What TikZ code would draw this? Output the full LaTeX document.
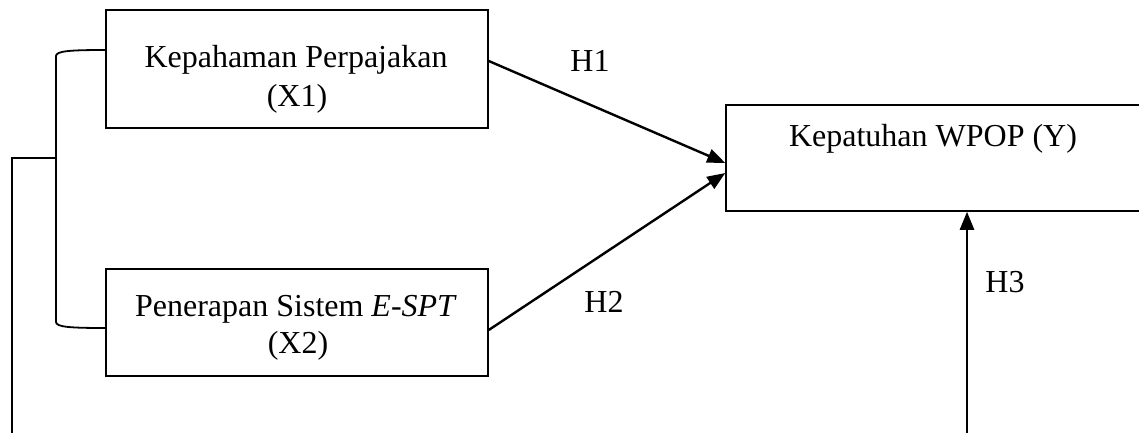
\documentclass[tikz,border=0pt]{standalone}
\usepackage{fontspec}
\setmainfont{Liberation Serif}
\usetikzlibrary{arrows.meta,calc}
\begin{document}
\begin{tikzpicture}[x=0.5pt,y=-0.5pt,
  box/.style={draw,line width=0.75pt,inner sep=0pt},
  lbl/.style={font=\fontsize{16}{18.5}\selectfont,anchor=base,inner sep=0pt},
  arr/.style={line width=1.2pt,-{Triangle[length=9pt,width=7pt]}},
  brk/.style={line width=0.9pt}]
\useasboundingbox (0,0) rectangle (1139,433);
\clip (0,0) rectangle (1139,433);
% boxes
\node[box,minimum width=191pt,minimum height=59pt] (x1) at (297,69) {};
\node[box,minimum width=191pt,minimum height=53.5pt] (x2) at (297,322.5) {};
\node[box,minimum width=217pt,minimum height=53pt] (y) at (943,158) {};
% texts
\node[lbl] (x1a) at (296,68) {Kepahaman Perpajakan};
\node[lbl] (x1b) at (297,106) {(X1)};
\node[lbl] (x2a) at (296,316) {Penerapan Sistem \textit{E-SPT}};
\node[lbl] (x2b) at (298,353) {(X2)};
\node[lbl] (yt) at (933,146) {Kepatuhan WPOP (Y)};
\node[lbl] (h1) at (590,72) {H1};
\node[lbl] (h2) at (604,312) {H2};
\node[lbl] (h3) at (1005,292) {H3};
% arrows
\draw[arr] ([yshift=4pt]x1.east) -- ([yshift=-2.5pt]y.west);
\draw[arr] ([yshift=-3.75pt]x2.east) -- ([yshift=-7.5pt]y.west);
\coordinate (h3s) at (967,445);
\draw[arr] (h3s) -- ([xshift=12pt]y.south);
% bracket
\coordinate (bt) at ([yshift=9.5pt]x1.west);
\coordinate (bb) at ([yshift=-2.75pt]x2.west);
\coordinate (bm) at (56,158);
\coordinate (bl) at (12,445);
\draw[brk] (bt) .. controls (70,50) and (56,51) .. (56,56) -- (56,322) .. controls (56,327) and (70,328) .. (bb);
\draw[brk] (bm) -- (12,158) -- (bl);
\end{tikzpicture}
\end{document}
